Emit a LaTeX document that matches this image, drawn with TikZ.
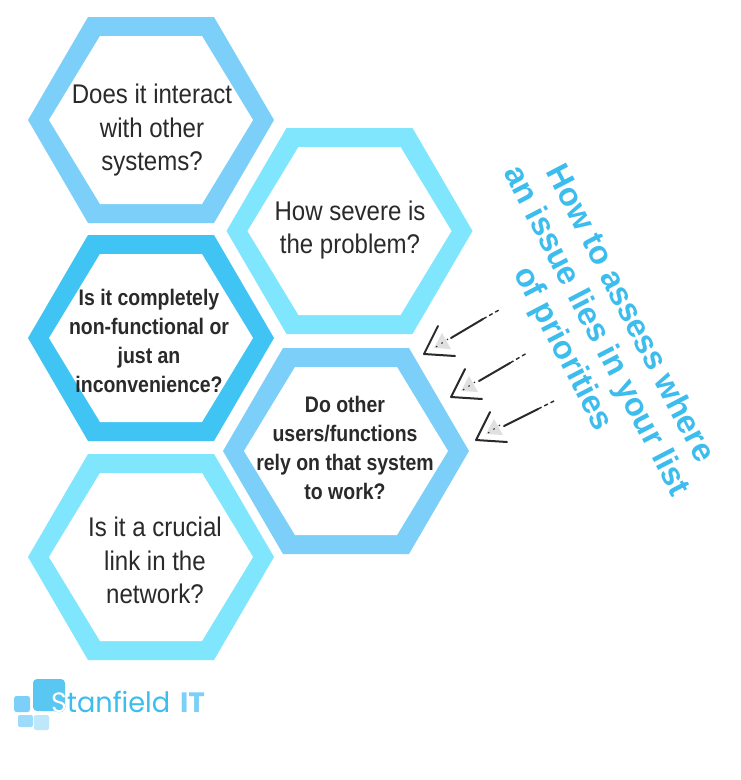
\documentclass[tikz,border=0pt]{standalone}
\usepackage{fontspec}
\setmainfont{Liberation Sans}
\newfontfamily\condreg[FakeStretch=0.89]{Liberation Sans}
\newfontfamily\condbold[FakeStretch=0.865]{Liberation Sans Bold}
\newfontfamily\logofont[FakeStretch=0.97]{Poppins}
\newfontfamily\logobold{Poppins}
\definecolor{hexblue}{HTML}{7CCFF8}
\definecolor{hexcyan}{HTML}{7FE6FD}
\definecolor{hexdeep}{HTML}{40C4F3}
\definecolor{titleblue}{HTML}{3CBDEE}
\definecolor{inkdark}{HTML}{2A2A2A}
\tikzset{
  plaintext/.style={font=\condreg\fontsize{27}{33.5}\selectfont,text=inkdark,align=center,inner sep=0pt},
  boldtext/.style={font=\condbold\fontsize{22.5}{29}\selectfont,text=inkdark,align=center,inner sep=0pt},
  titletext/.style={font=\bfseries\fontsize{32.6}{37.5}\selectfont,text=titleblue,align=center,inner sep=0pt,rotate=-62.5},
  logotext/.style={font=\logofont\fontsize{28}{28}\selectfont,anchor=base west,inner sep=0pt},
  arrowline/.style={draw=inkdark,line width=2pt,line cap=round,line join=round},
  arrowdash/.style={draw=inkdark,line width=1.4pt,dash pattern=on 4pt off 3pt},
  arrowdot/.style={inkdark,line width=1.1pt,dash pattern=on 1.5pt off 5pt}
}
\newcommand{\hexring}[3]{%
  \fill[#3] (#1-123,#2) -- (#1-63,#2-103) -- (#1+63,#2-103) -- (#1+123,#2) -- (#1+63,#2+103) -- (#1-63,#2+103) -- cycle;
  \fill[white] (#1-102,#2) -- (#1-51,#2-84) -- (#1+51,#2-84) -- (#1+102,#2) -- (#1+51,#2+84) -- (#1-51,#2+84) -- cycle;
}
% x, y, name, shaft start, shaft middle, shaft end
\newcommand{\arrowmark}[6]{%
  \begin{scope}[shift={(#1,#2)}]
    \fill[gray!24] (18,-21) -- (27,-5) -- (10,-6) -- cycle;
    \draw[arrowdot] (12,-7) -- (24,-15);
    \draw[arrowline] (14,-28) -- (0,0) -- (31,2);
    \coordinate (#3s) at (#4);
    \coordinate (#3m) at (#5);
    \coordinate (#3e) at (#6);
    \draw[arrowline] (#3s) -- (#3m);
    \draw[arrowdash] (#3m) -- (#3e);
  \end{scope}
}
\begin{document}
\begin{tikzpicture}[x=1pt,y=-1pt]
\useasboundingbox (0,0) rectangle (740,780);
\fill[white] (0,0) rectangle (740,780);
\hexring{151}{120}{hexblue}
\hexring{349.5}{231}{hexcyan}
\hexring{151}{338}{hexdeep}
\hexring{346}{451}{hexblue}
\hexring{151}{557}{hexcyan}
\node[plaintext] (q1) at (152,130.5) {Does it interact\\with other\\systems?};
\node[plaintext] (q2) at (350,230) {How severe is\\the problem?};
\node[boldtext] (q3) at (149,341) {Is it completely\\non-functional or\\just an\\inconvenience?};
\node[boldtext] (q4) at (345,448) {Do other\\users/functions\\rely on that system\\to work?};
\node[plaintext] (q5) at (155,560.5) {Is it a crucial\\link in the\\network?};
\node[titletext] (title) at (595.5,331.5) {How to assess where\\an issue lies in your list\\of priorities};
\arrowmark{424}{354}{a}{27,-16}{59,-35}{75,-44}
\arrowmark{451}{397}{b}{28,-16}{59,-34}{76,-44}
\arrowmark{476}{440}{c}{28,-14}{62,-31}{78,-39}
% logo
\fill[rounded corners=2.5pt,fill=hexblue] (14,696) rectangle (30,712);
\fill[rounded corners=2pt,fill=hexblue!75!white] (18,715) rectangle (33,727);
\fill[rounded corners=2pt,fill=hexblue!50!white] (34,715) rectangle (49,730);
\fill[rounded corners=4pt,fill=titleblue!85!white] (33,679) rectangle (65,711);
\node[logotext,text=titleblue] (logo) at (51,712) {Stanfield};
\begin{scope}
  \clip[rounded corners=4pt] (33,679) rectangle (65,711);
  \node[logotext,text=white] (logos) at (51,712) {S};
\end{scope}
\node[font=\logobold\bfseries\fontsize{28}{28}\selectfont,text=hexblue,anchor=base west,inner sep=0pt] (logoit) at (180,712) {IT};
\end{tikzpicture}
\end{document}
